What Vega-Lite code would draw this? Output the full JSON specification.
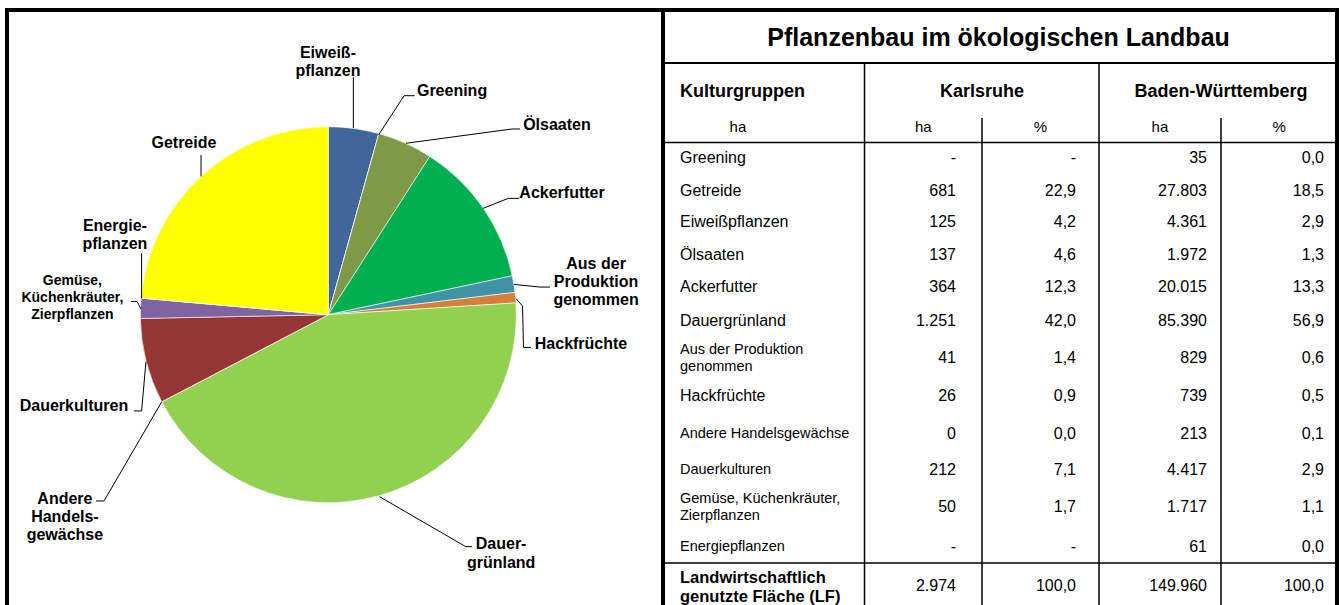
{
  "$schema": "https://vega.github.io/schema/vega-lite/v6.json",
  "background": "white",
  "padding": {"left": 5, "top": 8, "right": 0, "bottom": 0},
  "config": {
    "view": {"stroke": "black", "strokeWidth": 4},
    "font": "Liberation Sans",
    "text": {"font": "Liberation Sans", "color": "black"}
  },
  "datasets": {
    "pie": [
      {"kultur": "Eiweißpflanzen", "ha": 125},
      {"kultur": "Greening", "ha": 0},
      {"kultur": "Ölsaaten", "ha": 137},
      {"kultur": "Ackerfutter", "ha": 364},
      {"kultur": "Aus der Produktion genommen", "ha": 41},
      {"kultur": "Hackfrüchte", "ha": 26},
      {"kultur": "Dauergrünland", "ha": 1251},
      {"kultur": "Andere Handelsgewächse", "ha": 0},
      {"kultur": "Dauerkulturen", "ha": 212},
      {"kultur": "Gemüse, Küchenkräuter, Zierpflanzen", "ha": 50},
      {"kultur": "Energiepflanzen", "ha": 0},
      {"kultur": "Getreide", "ha": 681}
    ],
    "labels": [
      {"kultur": "Eiweißpflanzen", "text": "Eiweiß-\npflanzen", "u": -0.002, "v": 1.394},
      {"kultur": "Greening", "text": "Greening", "u": 0.658, "v": 1.19},
      {"kultur": "Ölsaaten", "text": "Ölsaaten", "u": 1.216, "v": 1.009},
      {"kultur": "Getreide", "text": "Getreide", "u": -0.768, "v": 0.913},
      {"kultur": "Ackerfutter", "text": "Ackerfutter", "u": 1.243, "v": 0.65},
      {"kultur": "Energiepflanzen", "text": "Energie-\npflanzen", "u": -1.135, "v": 0.472},
      {"kultur": "Gemüse, Küchenkräuter, Zierpflanzen", "text": "Gemüse,\nKüchenkräuter,\nZierpflanzen", "u": -1.361, "v": 0.179},
      {"kultur": "Aus der Produktion genommen", "text": "Aus der\nProduktion\ngenommen", "u": 1.424, "v": 0.271},
      {"kultur": "Hackfrüchte", "text": "Hackfrüchte", "u": 1.344, "v": -0.156},
      {"kultur": "Dauerkulturen", "text": "Dauerkulturen", "u": -1.353, "v": -0.486},
      {"kultur": "Andere Handelsgewächse", "text": "Andere\nHandels-\ngewächse", "u": -1.401, "v": -0.979},
      {"kultur": "Dauergrünland", "text": "Dauer-\ngrünland", "u": 0.919, "v": -1.221}
    ],
    "leaders": [
      {"id": "Eiweiß", "s": 1, "u": 0.133, "v": 1.264},
      {"id": "Eiweiß", "s": 2, "u": 0.133, "v": 0.993},
      {"id": "Greening", "s": 1, "u": 0.459, "v": 1.165},
      {"id": "Greening", "s": 2, "u": 0.403, "v": 1.165},
      {"id": "Greening", "s": 3, "u": 0.267, "v": 0.956},
      {"id": "Ölsaaten", "s": 1, "u": 1.02, "v": 0.988},
      {"id": "Ölsaaten", "s": 2, "u": 0.977, "v": 0.988},
      {"id": "Ölsaaten", "s": 3, "u": 0.413, "v": 0.912},
      {"id": "Getreide", "s": 1, "u": -0.677, "v": 0.85},
      {"id": "Getreide", "s": 2, "u": -0.677, "v": 0.736},
      {"id": "Ackerfutter", "s": 1, "u": 1.016, "v": 0.619},
      {"id": "Ackerfutter", "s": 2, "u": 0.957, "v": 0.619},
      {"id": "Ackerfutter", "s": 3, "u": 0.824, "v": 0.566},
      {"id": "Energie", "s": 1, "u": -0.993, "v": 0.327},
      {"id": "Energie", "s": 2, "u": -0.993, "v": 0.087},
      {"id": "Gemüse", "s": 1, "u": -1.049, "v": 0.07},
      {"id": "Gemüse", "s": 2, "u": -1.017, "v": 0.07},
      {"id": "Gemüse", "s": 3, "u": -0.996, "v": 0.03},
      {"id": "AusDer", "s": 1, "u": 1.179, "v": 0.147},
      {"id": "AusDer", "s": 2, "u": 1.126, "v": 0.147},
      {"id": "AusDer", "s": 3, "u": 0.988, "v": 0.161},
      {"id": "Hack", "s": 1, "u": 1.078, "v": -0.174},
      {"id": "Hack", "s": 2, "u": 1.038, "v": -0.174},
      {"id": "Hack", "s": 3, "u": 1.033, "v": 0.046},
      {"id": "Hack", "s": 4, "u": 0.998, "v": 0.086},
      {"id": "Dauerk", "s": 1, "u": -1.034, "v": -0.512},
      {"id": "Dauerk", "s": 2, "u": -0.993, "v": -0.512},
      {"id": "Dauerk", "s": 3, "u": -0.97, "v": -0.25},
      {"id": "Andere", "s": 1, "u": -1.236, "v": -0.991},
      {"id": "Andere", "s": 2, "u": -1.193, "v": -0.991},
      {"id": "Andere", "s": 3, "u": -0.886, "v": -0.463},
      {"id": "Dauergr", "s": 1, "u": 0.764, "v": -1.234},
      {"id": "Dauergr", "s": 2, "u": 0.731, "v": -1.234},
      {"id": "Dauergr", "s": 3, "u": 0.272, "v": -0.968}
    ],
    "table": [
      {"name": "Greening", "k_ha": "-", "k_pct": "-", "bw_ha": "35", "bw_pct": "0,0"},
      {"name": "Getreide", "k_ha": "681", "k_pct": "22,9", "bw_ha": "27.803", "bw_pct": "18,5"},
      {"name": "Eiweißpflanzen", "k_ha": "125", "k_pct": "4,2", "bw_ha": "4.361", "bw_pct": "2,9"},
      {"name": "Ölsaaten", "k_ha": "137", "k_pct": "4,6", "bw_ha": "1.972", "bw_pct": "1,3"},
      {"name": "Ackerfutter", "k_ha": "364", "k_pct": "12,3", "bw_ha": "20.015", "bw_pct": "13,3"},
      {"name": "Dauergrünland", "k_ha": "1.251", "k_pct": "42,0", "bw_ha": "85.390", "bw_pct": "56,9"},
      {"name": "Aus der Produktion\ngenommen", "k_ha": "41", "k_pct": "1,4", "bw_ha": "829", "bw_pct": "0,6"},
      {"name": "Hackfrüchte", "k_ha": "26", "k_pct": "0,9", "bw_ha": "739", "bw_pct": "0,5"},
      {"name": "Andere Handelsgewächse", "k_ha": "0", "k_pct": "0,0", "bw_ha": "213", "bw_pct": "0,1"},
      {"name": "Dauerkulturen", "k_ha": "212", "k_pct": "7,1", "bw_ha": "4.417", "bw_pct": "2,9"},
      {"name": "Gemüse, Küchenkräuter,\nZierpflanzen", "k_ha": "50", "k_pct": "1,7", "bw_ha": "1.717", "bw_pct": "1,1"},
      {"name": "Energiepflanzen", "k_ha": "-", "k_pct": "-", "bw_ha": "61", "bw_pct": "0,0"},
      {"name": "Landwirtschaftlich\ngenutzte Fläche (LF)", "k_ha": "2.974", "k_pct": "100,0", "bw_ha": "149.960", "bw_pct": "100,0"}
    ]
  },
  "spacing": 0,
  "bounds": "flush",
  "hconcat": [
    {
      "width": 656,
      "height": 600,
      "layer": [
        {
          "data": {"name": "pie"},
          "transform": [{"window": [{"op": "row_number", "as": "idx"}]}],
          "mark": {"type": "arc", "outerRadius": 188, "stroke": "white", "strokeWidth": 0.6},
          "encoding": {
            "x": {"datum": 0, "type": "quantitative", "scale": {"domain": [-1.709, 1.78], "nice": false, "zero": false}, "axis": null},
            "y": {"datum": 0, "type": "quantitative", "scale": {"domain": [-1.571, 1.621], "nice": false, "zero": false}, "axis": null},
            "theta": {"field": "ha", "type": "quantitative", "stack": true},
            "order": {"field": "idx", "type": "quantitative"},
            "color": {
              "field": "kultur", "type": "nominal", "legend": null,
              "scale": {
                "domain": ["Eiweißpflanzen", "Greening", "Ölsaaten", "Ackerfutter", "Aus der Produktion genommen", "Hackfrüchte", "Dauergrünland", "Andere Handelsgewächse", "Dauerkulturen", "Gemüse, Küchenkräuter, Zierpflanzen", "Energiepflanzen", "Getreide"],
                "range": ["#41679A", "#9BBB59", "#7E9A49", "#00AF50", "#3F93A6", "#D5803A", "#92D050", "#C0C0C0", "#943634", "#8064A2", "#A0A0A0", "#FFFF00"]
              }
            }
          }
        },
        {
          "data": {"name": "leaders"},
          "mark": {"type": "line", "color": "black", "strokeWidth": 1},
          "encoding": {
            "x": {"field": "u", "type": "quantitative", "scale": {"domain": [-1.709, 1.78], "nice": false, "zero": false}, "axis": null},
            "y": {"field": "v", "type": "quantitative", "scale": {"domain": [-1.571, 1.621], "nice": false, "zero": false}, "axis": null},
            "detail": {"field": "id", "type": "nominal"},
            "order": {"field": "s", "type": "quantitative"}
          }
        },
        {
          "data": {"name": "labels"},
          "transform": [{"filter": "datum.kultur !== 'Gemüse, Küchenkräuter, Zierpflanzen'"}],
          "mark": {"type": "text", "fontWeight": "bold", "fontSize": 16, "lineBreak": "\n", "lineHeight": 18.3, "align": "center", "baseline": "middle"},
          "encoding": {
            "x": {"field": "u", "type": "quantitative", "scale": {"domain": [-1.709, 1.78], "nice": false, "zero": false}, "axis": null},
            "y": {"field": "v", "type": "quantitative", "scale": {"domain": [-1.571, 1.621], "nice": false, "zero": false}, "axis": null},
            "text": {"field": "text", "type": "nominal"}
          }
        },
        {
          "data": {"name": "labels"},
          "transform": [{"filter": "datum.kultur === 'Gemüse, Küchenkräuter, Zierpflanzen'"}],
          "mark": {"type": "text", "fontWeight": "bold", "fontSize": 14, "lineBreak": "\n", "lineHeight": 17, "align": "center", "baseline": "middle"},
          "encoding": {
            "x": {"field": "u", "type": "quantitative", "scale": {"domain": [-1.709, 1.78], "nice": false, "zero": false}, "axis": null},
            "y": {"field": "v", "type": "quantitative", "scale": {"domain": [-1.571, 1.621], "nice": false, "zero": false}, "axis": null},
            "text": {"field": "text", "type": "nominal"}
          }
        }
      ]
    },
    {
      "width": 674,
      "height": 600,
      "data": {"name": "table"},
      "transform": [{"window": [{"op": "row_number", "as": "r"}]}],
      "layer": [
        {
          "data": {"values": [{}]},
          "mark": {"type": "rule", "color": "black", "strokeWidth": 2},
          "encoding": {
            "x": {"datum": -1, "type": "quantitative", "scale": {"domain": [-1, 0, 0.5, 1, 1.5, 2, 2.5, 3, 3.5, 4, 5], "range": [0, 17, 201.5, 293, 319, 413, 436, 544, 558, 661, 674], "nice": false, "zero": false}, "axis": null},
            "x2": {"datum": 5},
            "y": {"datum": -1.5, "type": "quantitative", "scale": {"domain": [-3, -2, -1.5, -1, -0.4, 0, 0.5, 1, 2, 3, 4, 5, 6, 7, 8, 9, 10, 11, 12, 12.5, 13, 14], "range": [0, 28, 53, 82, 108, 117, 132.5, 148.3, 181, 212, 245, 277, 310.5, 348, 386, 424, 460, 497, 536.5, 553, 576, 600], "nice": false, "zero": false}, "axis": null}
          }
        },
        {
          "data": {"values": [{}]},
          "mark": {"type": "rule", "color": "black", "strokeWidth": 1.5},
          "encoding": {
            "x": {"datum": -1, "type": "quantitative", "scale": {"domain": [-1, 0, 0.5, 1, 1.5, 2, 2.5, 3, 3.5, 4, 5], "range": [0, 17, 201.5, 293, 319, 413, 436, 544, 558, 661, 674], "nice": false, "zero": false}, "axis": null},
            "x2": {"datum": 5},
            "y": {"datum": 0.5, "type": "quantitative", "scale": {"domain": [-3, -2, -1.5, -1, -0.4, 0, 0.5, 1, 2, 3, 4, 5, 6, 7, 8, 9, 10, 11, 12, 12.5, 13, 14], "range": [0, 28, 53, 82, 108, 117, 132.5, 148.3, 181, 212, 245, 277, 310.5, 348, 386, 424, 460, 497, 536.5, 553, 576, 600], "nice": false, "zero": false}, "axis": null}
          }
        },
        {
          "data": {"values": [{}]},
          "mark": {"type": "rule", "color": "black", "strokeWidth": 1.5},
          "encoding": {
            "x": {"datum": -1, "type": "quantitative", "scale": {"domain": [-1, 0, 0.5, 1, 1.5, 2, 2.5, 3, 3.5, 4, 5], "range": [0, 17, 201.5, 293, 319, 413, 436, 544, 558, 661, 674], "nice": false, "zero": false}, "axis": null},
            "x2": {"datum": 5},
            "y": {"datum": 12.5, "type": "quantitative", "scale": {"domain": [-3, -2, -1.5, -1, -0.4, 0, 0.5, 1, 2, 3, 4, 5, 6, 7, 8, 9, 10, 11, 12, 12.5, 13, 14], "range": [0, 28, 53, 82, 108, 117, 132.5, 148.3, 181, 212, 245, 277, 310.5, 348, 386, 424, 460, 497, 536.5, 553, 576, 600], "nice": false, "zero": false}, "axis": null}
          }
        },
        {
          "data": {"values": [{}]},
          "mark": {"type": "rule", "color": "black", "strokeWidth": 1.5},
          "encoding": {
            "x": {"datum": 0.5, "type": "quantitative", "scale": {"domain": [-1, 0, 0.5, 1, 1.5, 2, 2.5, 3, 3.5, 4, 5], "range": [0, 17, 201.5, 293, 319, 413, 436, 544, 558, 661, 674], "nice": false, "zero": false}, "axis": null},
            "y": {"datum": -1.5, "type": "quantitative", "scale": {"domain": [-3, -2, -1.5, -1, -0.4, 0, 0.5, 1, 2, 3, 4, 5, 6, 7, 8, 9, 10, 11, 12, 12.5, 13, 14], "range": [0, 28, 53, 82, 108, 117, 132.5, 148.3, 181, 212, 245, 277, 310.5, 348, 386, 424, 460, 497, 536.5, 553, 576, 600], "nice": false, "zero": false}, "axis": null},
            "y2": {"datum": 14}
          }
        },
        {
          "data": {"values": [{}]},
          "mark": {"type": "rule", "color": "black", "strokeWidth": 1.5},
          "encoding": {
            "x": {"datum": 2.5, "type": "quantitative", "scale": {"domain": [-1, 0, 0.5, 1, 1.5, 2, 2.5, 3, 3.5, 4, 5], "range": [0, 17, 201.5, 293, 319, 413, 436, 544, 558, 661, 674], "nice": false, "zero": false}, "axis": null},
            "y": {"datum": -1.5, "type": "quantitative", "scale": {"domain": [-3, -2, -1.5, -1, -0.4, 0, 0.5, 1, 2, 3, 4, 5, 6, 7, 8, 9, 10, 11, 12, 12.5, 13, 14], "range": [0, 28, 53, 82, 108, 117, 132.5, 148.3, 181, 212, 245, 277, 310.5, 348, 386, 424, 460, 497, 536.5, 553, 576, 600], "nice": false, "zero": false}, "axis": null},
            "y2": {"datum": 14}
          }
        },
        {
          "data": {"values": [{}]},
          "mark": {"type": "rule", "color": "black", "strokeWidth": 1.5},
          "encoding": {
            "x": {"datum": 1.5, "type": "quantitative", "scale": {"domain": [-1, 0, 0.5, 1, 1.5, 2, 2.5, 3, 3.5, 4, 5], "range": [0, 17, 201.5, 293, 319, 413, 436, 544, 558, 661, 674], "nice": false, "zero": false}, "axis": null},
            "y": {"datum": -0.4, "type": "quantitative", "scale": {"domain": [-3, -2, -1.5, -1, -0.4, 0, 0.5, 1, 2, 3, 4, 5, 6, 7, 8, 9, 10, 11, 12, 12.5, 13, 14], "range": [0, 28, 53, 82, 108, 117, 132.5, 148.3, 181, 212, 245, 277, 310.5, 348, 386, 424, 460, 497, 536.5, 553, 576, 600], "nice": false, "zero": false}, "axis": null},
            "y2": {"datum": 14}
          }
        },
        {
          "data": {"values": [{}]},
          "mark": {"type": "rule", "color": "black", "strokeWidth": 1.5},
          "encoding": {
            "x": {"datum": 3.5, "type": "quantitative", "scale": {"domain": [-1, 0, 0.5, 1, 1.5, 2, 2.5, 3, 3.5, 4, 5], "range": [0, 17, 201.5, 293, 319, 413, 436, 544, 558, 661, 674], "nice": false, "zero": false}, "axis": null},
            "y": {"datum": -0.4, "type": "quantitative", "scale": {"domain": [-3, -2, -1.5, -1, -0.4, 0, 0.5, 1, 2, 3, 4, 5, 6, 7, 8, 9, 10, 11, 12, 12.5, 13, 14], "range": [0, 28, 53, 82, 108, 117, 132.5, 148.3, 181, 212, 245, 277, 310.5, 348, 386, 424, 460, 497, 536.5, 553, 576, 600], "nice": false, "zero": false}, "axis": null},
            "y2": {"datum": 14}
          }
        },
        {
          "data": {"values": [{"t": "Pflanzenbau im ökologischen Landbau"}]},
          "mark": {"type": "text", "fontWeight": "bold", "fontSize": 25, "align": "center", "baseline": "middle"},
          "encoding": {
            "x": {"datum": 1.588, "type": "quantitative", "scale": {"domain": [-1, 0, 0.5, 1, 1.5, 2, 2.5, 3, 3.5, 4, 5], "range": [0, 17, 201.5, 293, 319, 413, 436, 544, 558, 661, 674], "nice": false, "zero": false}, "axis": null},
            "y": {"datum": -2, "type": "quantitative", "scale": {"domain": [-3, -2, -1.5, -1, -0.4, 0, 0.5, 1, 2, 3, 4, 5, 6, 7, 8, 9, 10, 11, 12, 12.5, 13, 14], "range": [0, 28, 53, 82, 108, 117, 132.5, 148.3, 181, 212, 245, 277, 310.5, 348, 386, 424, 460, 497, 536.5, 553, 576, 600], "nice": false, "zero": false}, "axis": null},
            "text": {"field": "t", "type": "nominal"}
          }
        },
        {
          "data": {"values": [{"t": "Kulturgruppen"}]},
          "mark": {"type": "text", "fontWeight": "bold", "fontSize": 18, "align": "left", "baseline": "middle"},
          "encoding": {
            "x": {"datum": 0, "type": "quantitative", "scale": {"domain": [-1, 0, 0.5, 1, 1.5, 2, 2.5, 3, 3.5, 4, 5], "range": [0, 17, 201.5, 293, 319, 413, 436, 544, 558, 661, 674], "nice": false, "zero": false}, "axis": null},
            "y": {"datum": -1, "type": "quantitative", "scale": {"domain": [-3, -2, -1.5, -1, -0.4, 0, 0.5, 1, 2, 3, 4, 5, 6, 7, 8, 9, 10, 11, 12, 12.5, 13, 14], "range": [0, 28, 53, 82, 108, 117, 132.5, 148.3, 181, 212, 245, 277, 310.5, 348, 386, 424, 460, 497, 536.5, 553, 576, 600], "nice": false, "zero": false}, "axis": null},
            "text": {"field": "t", "type": "nominal"}
          }
        },
        {
          "data": {"values": [{"t": "Karlsruhe"}]},
          "mark": {"type": "text", "fontWeight": "bold", "fontSize": 18, "align": "center", "baseline": "middle"},
          "encoding": {
            "x": {"datum": 1.5, "type": "quantitative", "scale": {"domain": [-1, 0, 0.5, 1, 1.5, 2, 2.5, 3, 3.5, 4, 5], "range": [0, 17, 201.5, 293, 319, 413, 436, 544, 558, 661, 674], "nice": false, "zero": false}, "axis": null},
            "y": {"datum": -1, "type": "quantitative", "scale": {"domain": [-3, -2, -1.5, -1, -0.4, 0, 0.5, 1, 2, 3, 4, 5, 6, 7, 8, 9, 10, 11, 12, 12.5, 13, 14], "range": [0, 28, 53, 82, 108, 117, 132.5, 148.3, 181, 212, 245, 277, 310.5, 348, 386, 424, 460, 497, 536.5, 553, 576, 600], "nice": false, "zero": false}, "axis": null},
            "text": {"field": "t", "type": "nominal"}
          }
        },
        {
          "data": {"values": [{"t": "Baden-Württemberg"}]},
          "mark": {"type": "text", "fontWeight": "bold", "fontSize": 18, "align": "center", "baseline": "middle"},
          "encoding": {
            "x": {"datum": 3.5, "type": "quantitative", "scale": {"domain": [-1, 0, 0.5, 1, 1.5, 2, 2.5, 3, 3.5, 4, 5], "range": [0, 17, 201.5, 293, 319, 413, 436, 544, 558, 661, 674], "nice": false, "zero": false}, "axis": null},
            "y": {"datum": -1, "type": "quantitative", "scale": {"domain": [-3, -2, -1.5, -1, -0.4, 0, 0.5, 1, 2, 3, 4, 5, 6, 7, 8, 9, 10, 11, 12, 12.5, 13, 14], "range": [0, 28, 53, 82, 108, 117, 132.5, 148.3, 181, 212, 245, 277, 310.5, 348, 386, 424, 460, 497, 536.5, 553, 576, 600], "nice": false, "zero": false}, "axis": null},
            "text": {"field": "t", "type": "nominal"}
          }
        },
        {
          "data": {"values": [{"t": "ha", "c": 0.157}, {"t": "ha", "c": 0.821}, {"t": "%", "c": 1.811}, {"t": "ha", "c": 2.782}, {"t": "%", "c": 3.782}]},
          "mark": {"type": "text", "fontSize": 15, "align": "center", "baseline": "middle"},
          "encoding": {
            "x": {"field": "c", "type": "quantitative", "scale": {"domain": [-1, 0, 0.5, 1, 1.5, 2, 2.5, 3, 3.5, 4, 5], "range": [0, 17, 201.5, 293, 319, 413, 436, 544, 558, 661, 674], "nice": false, "zero": false}, "axis": null},
            "y": {"datum": 0, "type": "quantitative", "scale": {"domain": [-3, -2, -1.5, -1, -0.4, 0, 0.5, 1, 2, 3, 4, 5, 6, 7, 8, 9, 10, 11, 12, 12.5, 13, 14], "range": [0, 28, 53, 82, 108, 117, 132.5, 148.3, 181, 212, 245, 277, 310.5, 348, 386, 424, 460, 497, 536.5, 553, 576, 600], "nice": false, "zero": false}, "axis": null},
            "text": {"field": "t", "type": "nominal"}
          }
        },
        {
          "transform": [{"filter": "indexof(['Greening','Getreide','Eiweißpflanzen','Ölsaaten','Ackerfutter','Dauergrünland','Hackfrüchte'], datum.name) >= 0"}],
          "mark": {"type": "text", "fontSize": 16, "align": "left", "baseline": "middle"},
          "encoding": {
            "x": {"datum": 0, "type": "quantitative", "scale": {"domain": [-1, 0, 0.5, 1, 1.5, 2, 2.5, 3, 3.5, 4, 5], "range": [0, 17, 201.5, 293, 319, 413, 436, 544, 558, 661, 674], "nice": false, "zero": false}, "axis": null},
            "y": {"field": "r", "type": "quantitative", "scale": {"domain": [-3, -2, -1.5, -1, -0.4, 0, 0.5, 1, 2, 3, 4, 5, 6, 7, 8, 9, 10, 11, 12, 12.5, 13, 14], "range": [0, 28, 53, 82, 108, 117, 132.5, 148.3, 181, 212, 245, 277, 310.5, 348, 386, 424, 460, 497, 536.5, 553, 576, 600], "nice": false, "zero": false}, "axis": null},
            "text": {"field": "name", "type": "nominal"}
          }
        },
        {
          "transform": [{"filter": "indexof(['Andere Handelsgewächse','Dauerkulturen','Energiepflanzen'], datum.name) >= 0"}],
          "mark": {"type": "text", "fontSize": 14.5, "align": "left", "baseline": "middle"},
          "encoding": {
            "x": {"datum": 0, "type": "quantitative", "scale": {"domain": [-1, 0, 0.5, 1, 1.5, 2, 2.5, 3, 3.5, 4, 5], "range": [0, 17, 201.5, 293, 319, 413, 436, 544, 558, 661, 674], "nice": false, "zero": false}, "axis": null},
            "y": {"field": "r", "type": "quantitative", "scale": {"domain": [-3, -2, -1.5, -1, -0.4, 0, 0.5, 1, 2, 3, 4, 5, 6, 7, 8, 9, 10, 11, 12, 12.5, 13, 14], "range": [0, 28, 53, 82, 108, 117, 132.5, 148.3, 181, 212, 245, 277, 310.5, 348, 386, 424, 460, 497, 536.5, 553, 576, 600], "nice": false, "zero": false}, "axis": null},
            "text": {"field": "name", "type": "nominal"}
          }
        },
        {
          "transform": [{"filter": "datum.r === 7 || datum.r === 11"}],
          "mark": {"type": "text", "fontSize": 14.5, "align": "left", "baseline": "middle", "lineBreak": "\n", "lineHeight": 16.7, "dy": -8},
          "encoding": {
            "x": {"datum": 0, "type": "quantitative", "scale": {"domain": [-1, 0, 0.5, 1, 1.5, 2, 2.5, 3, 3.5, 4, 5], "range": [0, 17, 201.5, 293, 319, 413, 436, 544, 558, 661, 674], "nice": false, "zero": false}, "axis": null},
            "y": {"field": "r", "type": "quantitative", "scale": {"domain": [-3, -2, -1.5, -1, -0.4, 0, 0.5, 1, 2, 3, 4, 5, 6, 7, 8, 9, 10, 11, 12, 12.5, 13, 14], "range": [0, 28, 53, 82, 108, 117, 132.5, 148.3, 181, 212, 245, 277, 310.5, 348, 386, 424, 460, 497, 536.5, 553, 576, 600], "nice": false, "zero": false}, "axis": null},
            "text": {"field": "name", "type": "nominal"}
          }
        },
        {
          "transform": [{"filter": "datum.r === 13"}],
          "mark": {"type": "text", "fontSize": 16.5, "fontWeight": "bold", "align": "left", "baseline": "middle", "lineBreak": "\n", "lineHeight": 19.3, "dy": -8},
          "encoding": {
            "x": {"datum": 0, "type": "quantitative", "scale": {"domain": [-1, 0, 0.5, 1, 1.5, 2, 2.5, 3, 3.5, 4, 5], "range": [0, 17, 201.5, 293, 319, 413, 436, 544, 558, 661, 674], "nice": false, "zero": false}, "axis": null},
            "y": {"field": "r", "type": "quantitative", "scale": {"domain": [-3, -2, -1.5, -1, -0.4, 0, 0.5, 1, 2, 3, 4, 5, 6, 7, 8, 9, 10, 11, 12, 12.5, 13, 14], "range": [0, 28, 53, 82, 108, 117, 132.5, 148.3, 181, 212, 245, 277, 310.5, 348, 386, 424, 460, 497, 536.5, 553, 576, 600], "nice": false, "zero": false}, "axis": null},
            "text": {"field": "name", "type": "nominal"}
          }
        },
        {
          "mark": {"type": "text", "fontSize": 16, "align": "right", "baseline": "middle"},
          "encoding": {
            "x": {"datum": 1, "type": "quantitative", "scale": {"domain": [-1, 0, 0.5, 1, 1.5, 2, 2.5, 3, 3.5, 4, 5], "range": [0, 17, 201.5, 293, 319, 413, 436, 544, 558, 661, 674], "nice": false, "zero": false}, "axis": null},
            "y": {"field": "r", "type": "quantitative", "scale": {"domain": [-3, -2, -1.5, -1, -0.4, 0, 0.5, 1, 2, 3, 4, 5, 6, 7, 8, 9, 10, 11, 12, 12.5, 13, 14], "range": [0, 28, 53, 82, 108, 117, 132.5, 148.3, 181, 212, 245, 277, 310.5, 348, 386, 424, 460, 497, 536.5, 553, 576, 600], "nice": false, "zero": false}, "axis": null},
            "text": {"field": "k_ha", "type": "nominal"}
          }
        },
        {
          "mark": {"type": "text", "fontSize": 16, "align": "right", "baseline": "middle"},
          "encoding": {
            "x": {"datum": 2, "type": "quantitative", "scale": {"domain": [-1, 0, 0.5, 1, 1.5, 2, 2.5, 3, 3.5, 4, 5], "range": [0, 17, 201.5, 293, 319, 413, 436, 544, 558, 661, 674], "nice": false, "zero": false}, "axis": null},
            "y": {"field": "r", "type": "quantitative", "scale": {"domain": [-3, -2, -1.5, -1, -0.4, 0, 0.5, 1, 2, 3, 4, 5, 6, 7, 8, 9, 10, 11, 12, 12.5, 13, 14], "range": [0, 28, 53, 82, 108, 117, 132.5, 148.3, 181, 212, 245, 277, 310.5, 348, 386, 424, 460, 497, 536.5, 553, 576, 600], "nice": false, "zero": false}, "axis": null},
            "text": {"field": "k_pct", "type": "nominal"}
          }
        },
        {
          "mark": {"type": "text", "fontSize": 16, "align": "right", "baseline": "middle"},
          "encoding": {
            "x": {"datum": 3, "type": "quantitative", "scale": {"domain": [-1, 0, 0.5, 1, 1.5, 2, 2.5, 3, 3.5, 4, 5], "range": [0, 17, 201.5, 293, 319, 413, 436, 544, 558, 661, 674], "nice": false, "zero": false}, "axis": null},
            "y": {"field": "r", "type": "quantitative", "scale": {"domain": [-3, -2, -1.5, -1, -0.4, 0, 0.5, 1, 2, 3, 4, 5, 6, 7, 8, 9, 10, 11, 12, 12.5, 13, 14], "range": [0, 28, 53, 82, 108, 117, 132.5, 148.3, 181, 212, 245, 277, 310.5, 348, 386, 424, 460, 497, 536.5, 553, 576, 600], "nice": false, "zero": false}, "axis": null},
            "text": {"field": "bw_ha", "type": "nominal"}
          }
        },
        {
          "mark": {"type": "text", "fontSize": 16, "align": "right", "baseline": "middle"},
          "encoding": {
            "x": {"datum": 4, "type": "quantitative", "scale": {"domain": [-1, 0, 0.5, 1, 1.5, 2, 2.5, 3, 3.5, 4, 5], "range": [0, 17, 201.5, 293, 319, 413, 436, 544, 558, 661, 674], "nice": false, "zero": false}, "axis": null},
            "y": {"field": "r", "type": "quantitative", "scale": {"domain": [-3, -2, -1.5, -1, -0.4, 0, 0.5, 1, 2, 3, 4, 5, 6, 7, 8, 9, 10, 11, 12, 12.5, 13, 14], "range": [0, 28, 53, 82, 108, 117, 132.5, 148.3, 181, 212, 245, 277, 310.5, 348, 386, 424, 460, 497, 536.5, 553, 576, 600], "nice": false, "zero": false}, "axis": null},
            "text": {"field": "bw_pct", "type": "nominal"}
          }
        }
      ]
    }
  ]
}
